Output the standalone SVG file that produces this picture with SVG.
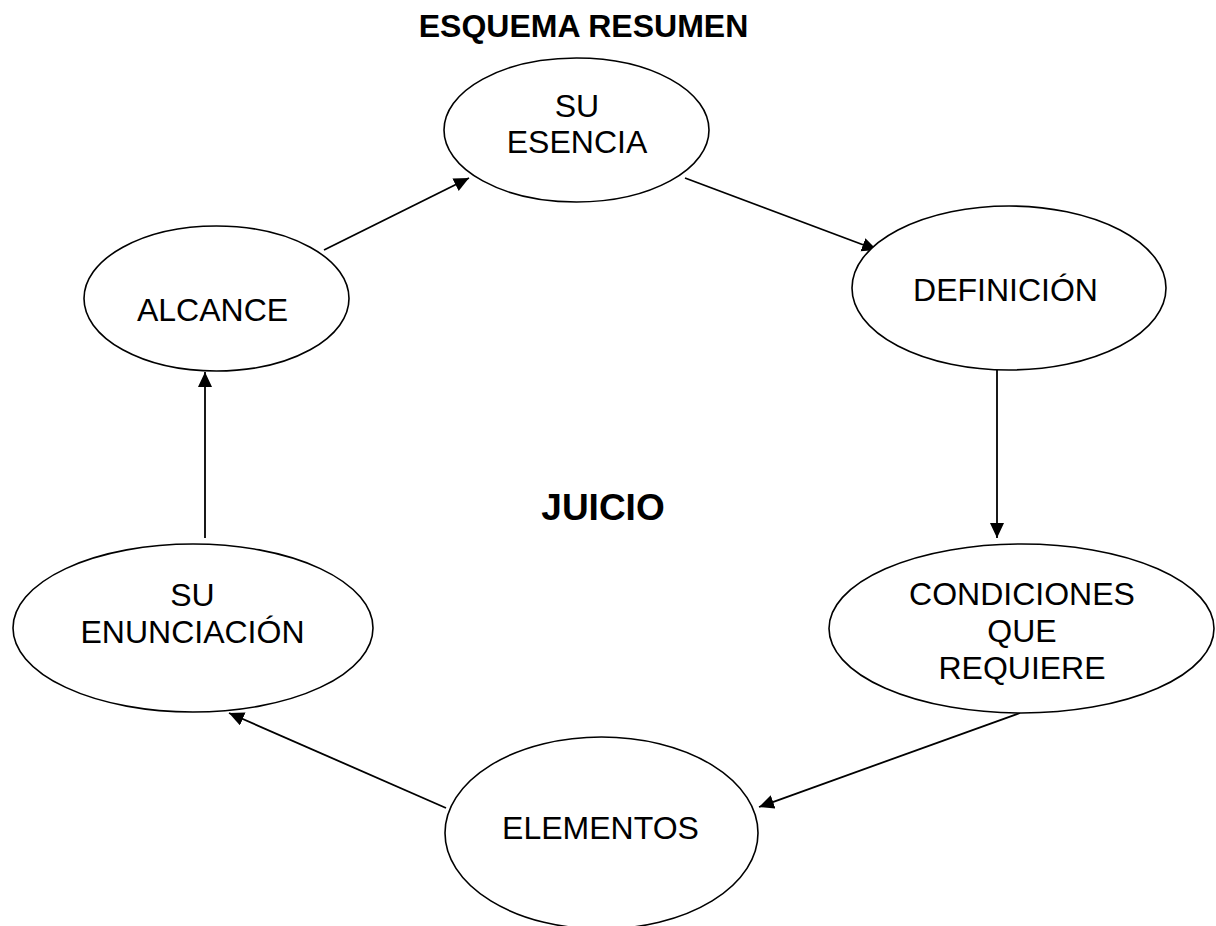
<svg xmlns="http://www.w3.org/2000/svg" width="1216" height="926" viewBox="0 0 1216 926">
<style>
.node ellipse{fill:#fff;stroke:#000;stroke-width:1.6}
.node text{font-family:"Liberation Sans",Arial,sans-serif;font-size:32px;fill:#000;text-anchor:middle}
.title{font-family:"Liberation Sans",Arial,sans-serif;font-weight:bold;fill:#000;text-anchor:middle}
.edges line{stroke:#000;stroke-width:1.8;marker-end:url(#arr)}
</style>
<defs>
<marker id="arr" markerUnits="userSpaceOnUse" markerWidth="16" markerHeight="15" refX="15" refY="7" orient="auto">
<path d="M0,0 L15,7 L0,14 z" fill="#000"/>
</marker>
</defs>
<rect width="1216" height="926" fill="#fff"/>
<text class="title" x="583.5" y="37" font-size="32">ESQUEMA RESUMEN</text>
<text class="title" x="603" y="520" font-size="37">JUICIO</text>
<g class="edges" id="connectors">
<line x1="324" y1="250" x2="469" y2="178"/>
<line x1="685" y1="178" x2="877" y2="250"/>
<line x1="997" y1="370" x2="997" y2="538"/>
<line x1="1020" y1="713" x2="759" y2="807"/>
<line x1="446" y1="808" x2="229" y2="713"/>
<line x1="205" y1="538" x2="205" y2="372"/>
</g>
<g class="node" id="su-esencia">
<ellipse cx="576.5" cy="130" rx="132.5" ry="72"/>
<text x="577" y="117">SU</text>
<text x="577" y="153">ESENCIA</text>
</g>
<g class="node" id="definicion">
<ellipse cx="1009" cy="288" rx="157" ry="82"/>
<text x="1005.5" y="301">DEFINICIÓN</text>
</g>
<g class="node" id="condiciones">
<ellipse cx="1021.5" cy="628.5" rx="192.5" ry="84.5"/>
<text x="1022" y="605">CONDICIONES</text>
<text x="1022" y="642">QUE</text>
<text x="1022" y="679">REQUIERE</text>
</g>
<g class="node" id="elementos">
<ellipse cx="601.5" cy="833" rx="156.5" ry="96"/>
<text x="600.5" y="839">ELEMENTOS</text>
</g>
<g class="node" id="su-enunciacion">
<ellipse cx="193" cy="628" rx="180" ry="84"/>
<text x="192.5" y="606">SU</text>
<text x="192.5" y="643">ENUNCIACIÓN</text>
</g>
<g class="node" id="alcance">
<ellipse cx="216.5" cy="298.5" rx="132.5" ry="72.5"/>
<text x="212.5" y="321">ALCANCE</text>
</g>
</svg>
